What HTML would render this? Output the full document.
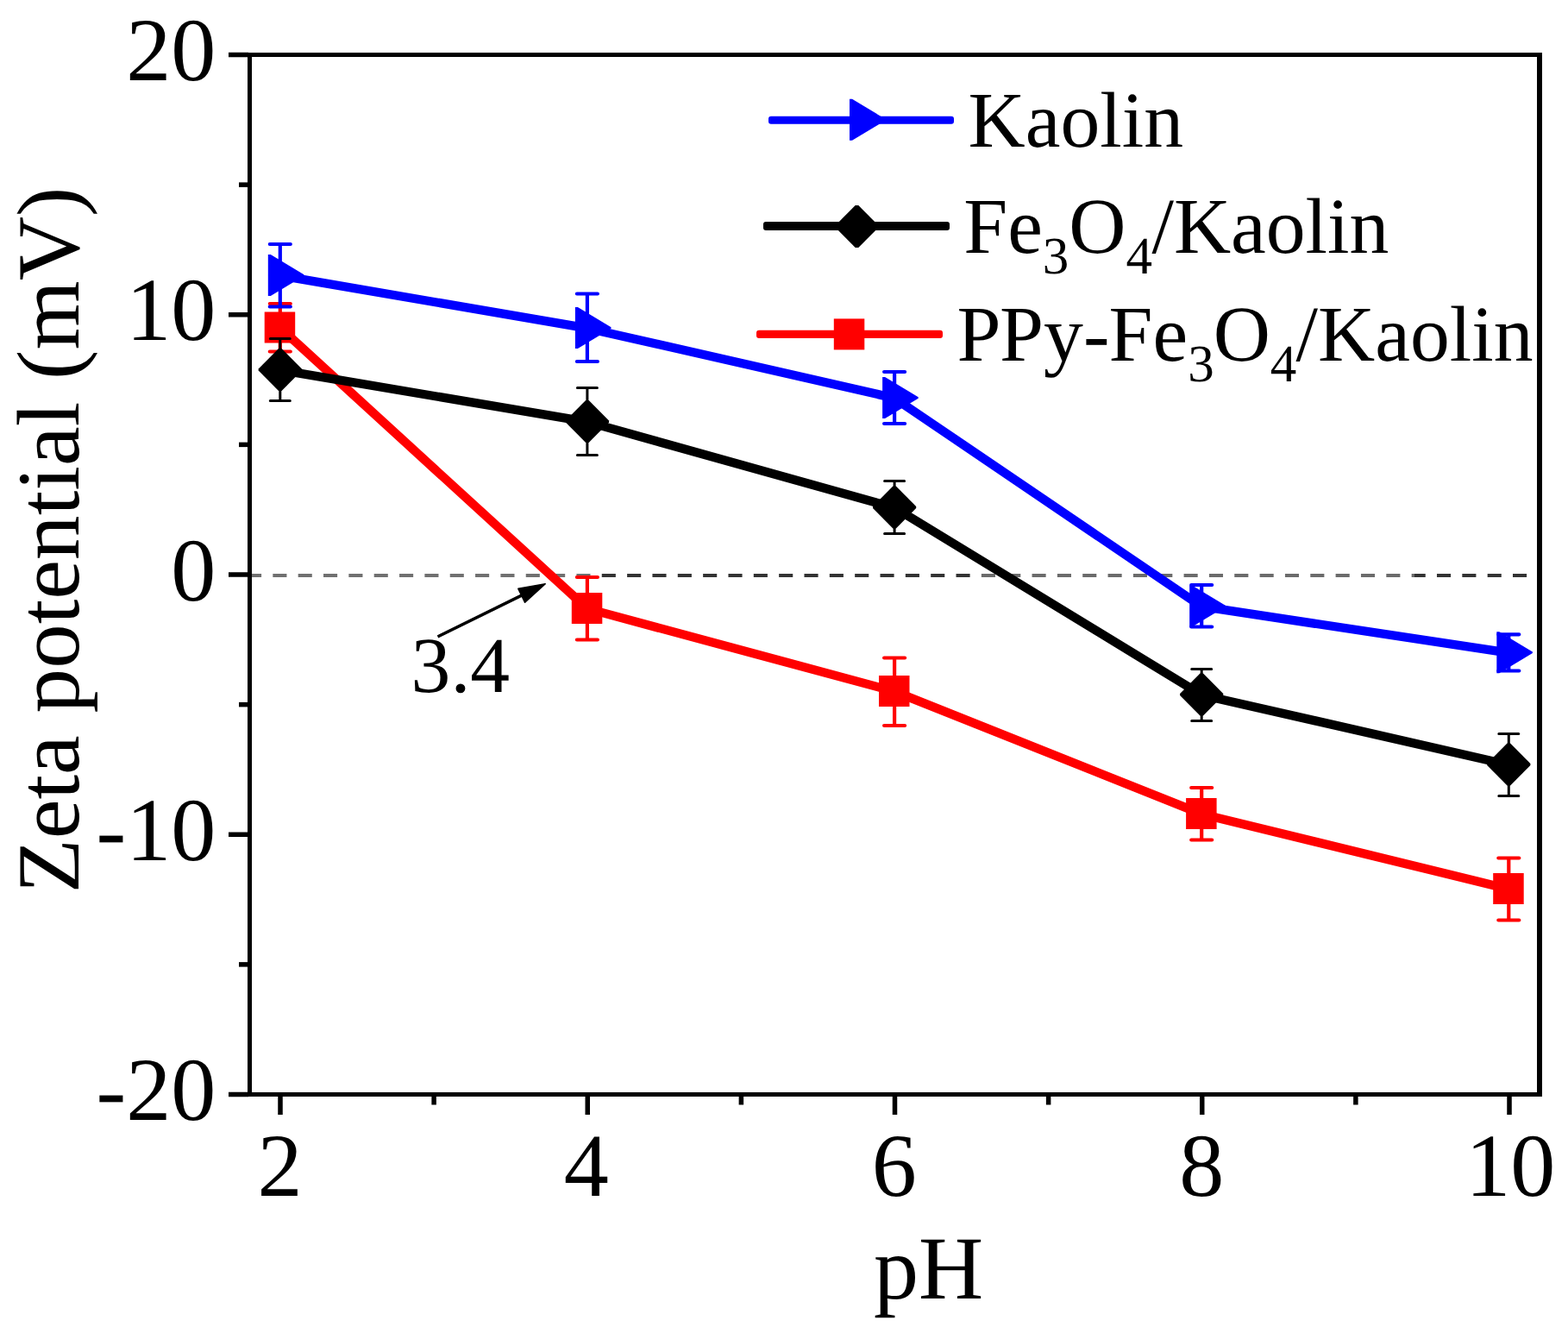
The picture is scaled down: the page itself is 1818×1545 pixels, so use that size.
<!DOCTYPE html>
<html lang="en">
<head>
<meta charset="utf-8">
<title>Zeta potential vs pH</title>
<style>
html,body{margin:0;padding:0;background:#fff;}
body{width:1818px;height:1545px;overflow:hidden;}
svg{display:block;}
text{font-family:"Liberation Serif","DejaVu Serif",serif;fill:#000;font-kerning:none;text-rendering:geometricPrecision;}
.t{font-size:104.17px;}
.l{font-size:91.67px;}
.s{font-size:61px;}
</style>
</head>
<body>
<svg width="1818" height="1545" viewBox="0 0 1818 1545">
<rect width="1818" height="1545" fill="#fff"/>

<defs><linearGradient id="zg" gradientUnits="userSpaceOnUse" x1="287" y1="0" x2="1782" y2="0"><stop offset="0.0000" stop-color="#000" stop-opacity="0.56"/><stop offset="0.2696" stop-color="#000" stop-opacity="0.56"/><stop offset="0.2696" stop-color="#000" stop-opacity="0.8"/><stop offset="0.5639" stop-color="#000" stop-opacity="0.8"/><stop offset="0.5639" stop-color="#000" stop-opacity="0.58"/><stop offset="0.9050" stop-color="#000" stop-opacity="0.58"/><stop offset="0.9050" stop-color="#000" stop-opacity="0.8"/><stop offset="1.0000" stop-color="#000" stop-opacity="0.8"/></linearGradient></defs>
<path d="M287 667H1782" fill="none" stroke="url(#zg)" stroke-width="4" stroke-dasharray="16.1 13.24"/>
<g fill="#ff0000" stroke="#ff0000">
<polyline points="324.8,379.9 680.9,705.4 1037.1,801.4 1393.2,943.4 1749.3,1030.4" fill="none" stroke-width="10.3" stroke-linejoin="round"/>
<path d="M324.8 352.0V407.5M312.8 352.0H336.8M312.8 407.5H336.8" stroke-width="4.2" stroke-linecap="round" fill="none"/>
<path d="M680.9 669.0V741.5M668.9 669.0H692.9M668.9 741.5H692.9" stroke-width="4.2" stroke-linecap="round" fill="none"/>
<path d="M1037.1 762.5V841.0M1025.1 762.5H1049.1M1025.1 841.0H1049.1" stroke-width="4.2" stroke-linecap="round" fill="none"/>
<path d="M1393.2 913.0V973.5M1381.2 913.0H1405.2M1381.2 973.5H1405.2" stroke-width="4.2" stroke-linecap="round" fill="none"/>
<path d="M1749.3 994.5V1066.5M1737.3 994.5H1761.3M1737.3 1066.5H1761.3" stroke-width="4.2" stroke-linecap="round" fill="none"/>
<g stroke="none">
<rect x="306.70" y="361.50" width="35.5" height="36"/>
<rect x="662.80" y="687.00" width="35.5" height="36"/>
<rect x="1019.00" y="783.00" width="35.5" height="36"/>
<rect x="1375.10" y="925.00" width="35.5" height="36"/>
<rect x="1731.20" y="1012.00" width="35.5" height="36"/>
</g></g>
<g fill="#000000" stroke="#000000">
<polyline points="324.8,428.9 680.9,488.9 1037.1,588.4 1393.2,805.4 1749.3,886.4" fill="none" stroke-width="10.3" stroke-linejoin="round"/>
<path d="M324.8 392.5V464.5M313.3 392.5H336.3M313.3 464.5H336.3" stroke-width="3.0" stroke-linecap="round" fill="none"/>
<path d="M680.9 449.5V527.5M669.4 449.5H692.4M669.4 527.5H692.4" stroke-width="3.0" stroke-linecap="round" fill="none"/>
<path d="M1037.1 557.5V618.5M1025.6 557.5H1048.6M1025.6 618.5H1048.6" stroke-width="3.0" stroke-linecap="round" fill="none"/>
<path d="M1393.2 775.5V835.6M1381.7 775.5H1404.7M1381.7 835.6H1404.7" stroke-width="3.0" stroke-linecap="round" fill="none"/>
<path d="M1749.3 850.5V922.5M1737.8 850.5H1760.8M1737.8 922.5H1760.8" stroke-width="3.0" stroke-linecap="round" fill="none"/>
<g stroke="none">
<polygon points="323.0,404.1 326.6,404.1 349.9,427.4 349.9,429.6 326.6,452.9 323.0,452.9 299.7,429.6 299.7,427.4"/>
<polygon points="679.1,464.1 682.7,464.1 706.0,487.4 706.0,489.6 682.7,512.9 679.1,512.9 655.8,489.6 655.8,487.4"/>
<polygon points="1035.3,563.6 1038.9,563.6 1062.2,586.9 1062.2,589.1 1038.9,612.4 1035.3,612.4 1012.0,589.1 1012.0,586.9"/>
<polygon points="1391.4,780.6 1395.0,780.6 1418.3,803.9 1418.3,806.1 1395.0,829.4 1391.4,829.4 1368.1,806.1 1368.1,803.9"/>
<polygon points="1747.5,861.6 1751.1,861.6 1774.4,884.9 1774.4,887.1 1751.1,910.4 1747.5,910.4 1724.2,887.1 1724.2,884.9"/>
</g></g>
<g fill="#0000ff" stroke="#0000ff">
<polyline points="324.8,319.4 680.9,380.4 1037.1,461.4 1393.2,702.9 1749.3,756.6" fill="none" stroke-width="10.3" stroke-linejoin="round"/>
<path d="M324.8 283.0V355.5M312.8 283.0H336.8M312.8 355.5H336.8" stroke-width="4.2" stroke-linecap="round" fill="none"/>
<path d="M680.9 340.5V419.0M668.9 340.5H692.9M668.9 419.0H692.9" stroke-width="4.2" stroke-linecap="round" fill="none"/>
<path d="M1037.1 431.0V491.0M1025.1 431.0H1049.1M1025.1 491.0H1049.1" stroke-width="4.2" stroke-linecap="round" fill="none"/>
<path d="M1393.2 678.0V726.5M1381.2 678.0H1405.2M1381.2 726.5H1405.2" stroke-width="4.2" stroke-linecap="round" fill="none"/>
<path d="M1749.3 735.3V777.5M1737.3 735.3H1761.3M1737.3 777.5H1761.3" stroke-width="4.2" stroke-linecap="round" fill="none"/>
<g stroke="none">
<polygon points="310.8,295.0 313.8,295.0 352.4,318.2 352.4,319.8 313.8,343.0 310.8,343.0"/>
<polygon points="666.9,356.0 669.9,356.0 708.5,379.2 708.5,380.8 669.9,404.0 666.9,404.0"/>
<polygon points="1023.1,437.0 1026.1,437.0 1064.7,460.2 1064.7,461.8 1026.1,485.0 1023.1,485.0"/>
<polygon points="1379.2,678.5 1382.2,678.5 1420.8,701.7 1420.8,703.3 1382.2,726.5 1379.2,726.5"/>
<polygon points="1735.3,732.2 1738.3,732.2 1776.9,755.4 1776.9,757.0 1738.3,780.2 1735.3,780.2"/>
</g></g>
<g fill="#000">
<rect x="287" y="61" width="5" height="1210"/>
<rect x="1782" y="61" width="6" height="1210"/>
<rect x="287" y="61" width="1501" height="5"/>
<rect x="287" y="1266" width="1501" height="5"/>
<rect x="265" y="60.75" width="23" height="5.5"/>
<rect x="277" y="211.38" width="11" height="5.5"/>
<rect x="265" y="362.00" width="23" height="5.5"/>
<rect x="277" y="512.62" width="11" height="5.5"/>
<rect x="265" y="663.25" width="23" height="5.5"/>
<rect x="277" y="813.88" width="11" height="5.5"/>
<rect x="265" y="964.50" width="23" height="5.5"/>
<rect x="277" y="1115.12" width="11" height="5.5"/>
<rect x="265" y="1265.75" width="23" height="5.5"/>
<rect x="322.25" y="1270" width="5.5" height="22"/>
<rect x="500.38" y="1270" width="5.5" height="10.5"/>
<rect x="678.50" y="1270" width="5.5" height="22"/>
<rect x="856.62" y="1270" width="5.5" height="10.5"/>
<rect x="1034.75" y="1270" width="5.5" height="22"/>
<rect x="1212.88" y="1270" width="5.5" height="10.5"/>
<rect x="1391.00" y="1270" width="5.5" height="22"/>
<rect x="1569.12" y="1270" width="5.5" height="10.5"/>
<rect x="1747.25" y="1270" width="5.5" height="22"/>
</g>
<g class="t">
<text x="250.3" y="93.0" text-anchor="end">20</text>
<text x="250.3" y="394.2" text-anchor="end">10</text>
<text x="250.3" y="695.5" text-anchor="end">0</text>
<text x="250.3" y="996.8" text-anchor="end">-10</text>
<text x="250.3" y="1298.0" text-anchor="end">-20</text>
<text x="324.5" y="1386" text-anchor="middle">2</text>
<text x="679.8" y="1386" text-anchor="middle">4</text>
<text x="1036.7" y="1386" text-anchor="middle">6</text>
<text x="1393.2" y="1386" text-anchor="middle">8</text>
<text x="1751.3" y="1386" text-anchor="middle">10</text>
<text x="1013" y="1504.8">pH</text>
<text transform="translate(90.8 1035.3) rotate(-90)" style="font-size:103.1px">Zeta potential (mV)</text>
</g>
<g fill="#0000ff" stroke="none"><rect x="891" y="134.75" width="215" height="9.1" rx="3"/><polygon points="985.0,114.8 988.0,114.8 1026.6,138.0 1026.6,139.6 988.0,162.8 985.0,162.8"/></g>
<text class="l" x="1122.6" y="170.2">Kaolin</text>
<g fill="#000000" stroke="none"><rect x="885" y="257.00" width="216" height="10.0" rx="3"/><polygon points="991.7,238.1 995.3,238.1 1018.6,261.4 1018.6,263.6 995.3,286.9 991.7,286.9 968.4,263.6 968.4,261.4"/></g>
<text class="l" x="1117.2" y="293.1">Fe<tspan class="s" dy="23.5">3</tspan><tspan dy="-23.5" dx="0">O</tspan><tspan class="s" dy="23.5">4</tspan><tspan dy="-23.5" dx="-0.6">/Kaolin</tspan></text>
<g fill="#ff0000" stroke="none"><rect x="877" y="382.80" width="216" height="9.2" rx="3"/><rect x="966.80" y="369.40" width="35.5" height="36"/></g>
<text class="l" x="1109.5" y="418.3">P<tspan dx="-1.4">Py-</tspan><tspan dx="-0.9">Fe<tspan class="s" dy="23.5">3</tspan><tspan dy="-23.5" dx="-1.0">O</tspan><tspan class="s" dy="23.5">4</tspan><tspan dy="-23.5" dx="-0.8">/Kaolin</tspan></tspan></text>
<text class="l" x="476.6" y="801.7">3.4</text>
<line x1="507.5" y1="738.0" x2="604.7" y2="690.2" stroke="#000" stroke-width="3.6"/>
<polygon fill="#000" stroke="#000" stroke-width="1.6" stroke-linejoin="round" points="632.2,676.7 608.6,698.1 600.9,682.3"/>
</svg>
</body>
</html>
